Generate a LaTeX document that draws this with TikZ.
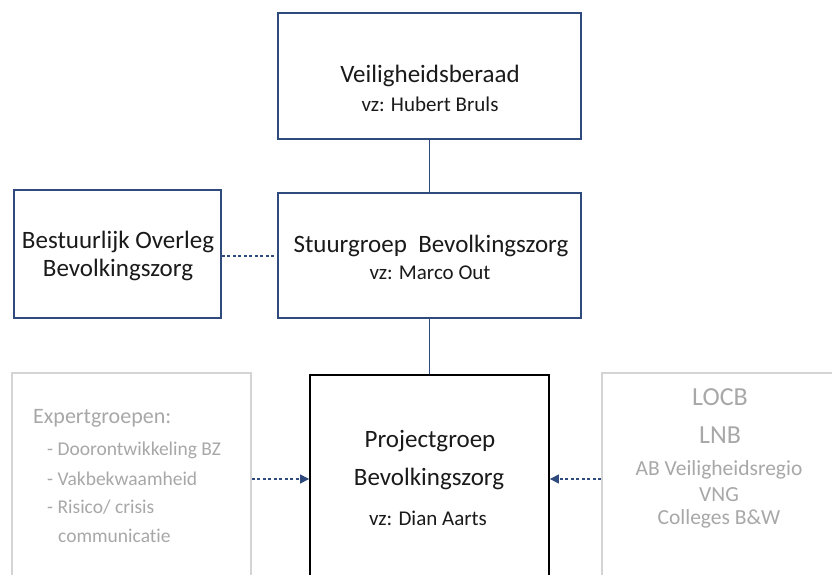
\documentclass[tikz,border=0pt]{standalone}
\usepackage{fontspec}
\setmainfont[Ligatures=NoCommon]{Carlito}
\usetikzlibrary{arrows.meta}
\definecolor{navy}{HTML}{2F4A7C}
\definecolor{lgray}{HTML}{D4D4D4}
\definecolor{tgray}{HTML}{A8A8A8}
\definecolor{txt}{HTML}{1A1A1A}
\begin{document}
\begin{tikzpicture}[x=1pt,y=-1pt,
  box/.style={draw=navy,line width=1.8pt,inner sep=0pt},
  pbox/.style={draw=black,line width=1.8pt,inner sep=0pt},
  gbox/.style={draw=lgray,line width=1.8pt,inner sep=0pt},
  title/.style={text=txt,font=\fontsize{25}{30}\selectfont,inner sep=0pt,anchor=center},
  sub/.style={text=txt,font=\fontsize{21}{25}\selectfont,inner sep=0pt,anchor=center},
  gt/.style={text=tgray,font=\fontsize{19.5}{23}\selectfont,inner sep=0pt},
  gtm/.style={text=tgray,font=\fontsize{21.5}{26}\selectfont,inner sep=0pt},
  gtl/.style={text=tgray,font=\fontsize{26}{31}\selectfont,inner sep=0pt},
  conn/.style={draw=navy,line width=1.2pt},
  dconn/.style={draw=navy,line width=1.2pt,dash pattern=on 3pt off 2.5pt},
  arr/.style={-{Triangle[length=9pt,width=9pt]}}
]
\useasboundingbox (0,0) rectangle (832,575);
\fill[white] (0,0) rectangle (832,575);
% boxes
\node[box,minimum width=303,minimum height=126] (vb) at (429.5,76) {};
\node[box,minimum width=303,minimum height=125] (sg) at (429.5,255.5) {};
\node[box,minimum width=207,minimum height=128] (bo) at (117.5,254) {};
\begin{scope}
\clip (0,0) rectangle (832,575);
\node[pbox,minimum width=239,minimum height=240] (pg) at (429.5,495) {};
\node[gbox,minimum width=239,minimum height=240] (eg) at (131.5,493) {};
\node[gbox,minimum width=250,minimum height=240] (rb) at (727,493) {};
\end{scope}
% connectors
\draw[conn] (vb.south) -- (sg.north);
\draw[conn] (sg.south) -- (pg.north);
\coordinate (bor) at (bo.east |- 0,256);
\coordinate (sgl) at (sg.west |- 0,256);
\draw[dconn] (bor) -- (sgl);
\coordinate (egr) at (eg.east |- 0,479);
\coordinate (pgl) at (pg.west |- 0,479);
\coordinate (rbl) at (rb.west |- 0,479);
\coordinate (pgr) at (pg.east |- 0,479);
\draw[dconn,arr] (egr) -- (pgl);
\draw[dconn,arr] (rbl) -- (pgr);
% texts
\node[title] (t1) at (430,76) {Veiligheidsberaad};
\node[sub] (t2) at (430,104) {vz: Hubert Bruls};
\node[title] (t3) at (431,246) {Stuurgroep\ \ Bevolkingszorg};
\node[sub] (t4) at (430,273) {vz: Marco Out};
\node[title] (t5) at (118,242) {Bestuurlijk Overleg};
\node[title] (t6) at (118,270) {Bevolkingszorg};
\node[title] (t7) at (430,441) {Projectgroep};
\node[title] (t8) at (429,479) {Bevolkingszorg};
\node[sub] (t9) at (428,518) {vz: Dian Aarts};
\node[gt,anchor=west,font=\fontsize{22}{26}\selectfont] (e1) at (33,418) {Expertgroepen:};
\node[gt,anchor=west] (e2) at (47,450) {- Doorontwikkeling BZ};
\node[gt,anchor=west] (e3) at (47,479) {- Vakbekwaamheid};
\node[gt,anchor=west] (e4) at (47,507) {- Risico/ crisis};
\node[gt,anchor=west] (e5) at (58,536) {communicatie};
\node[gtl] (r1) at (720,397) {LOCB};
\node[gtl] (r2) at (720,435) {LNB};
\node[gtm] (r3) at (719,470) {AB Veiligheidsregio};
\node[gtm] (r4) at (719,495) {VNG};
\node[gtm] (r5) at (719,519) {Colleges B\&W};
\end{tikzpicture}
\end{document}
